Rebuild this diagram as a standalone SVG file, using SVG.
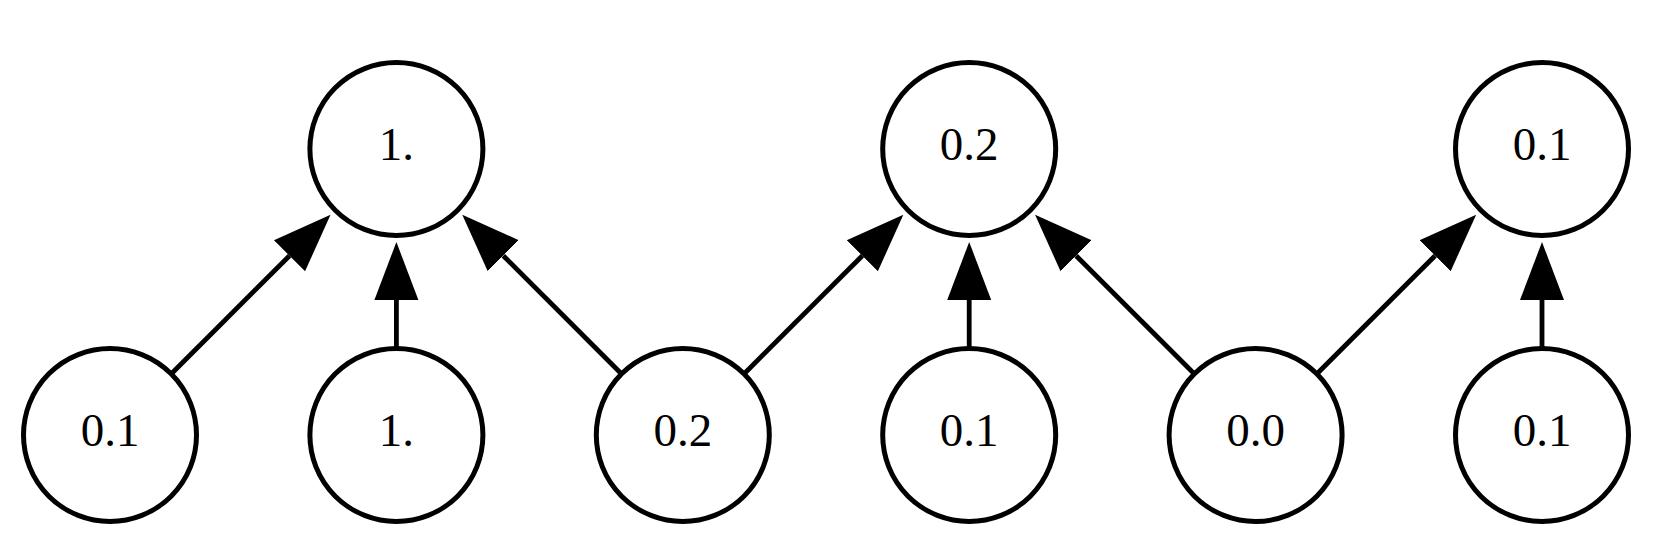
<svg xmlns="http://www.w3.org/2000/svg" width="1656" height="544" viewBox="0 0 1656 544">
<style>
.node circle{fill:#fff;stroke:#000;stroke-width:5}
.node text{font-family:"Liberation Serif","DejaVu Serif",serif;font-size:47px;fill:#000;text-anchor:middle}
.edges line{stroke:#000;stroke-width:4.8;marker-end:url(#ah)}
</style>
<defs>
<marker id="ah" markerUnits="userSpaceOnUse" markerWidth="60" markerHeight="46" refX="0" refY="23" orient="auto" viewBox="0 0 60 46">
<path d="M0,1 L58,23 L0,45 Z" fill="#000"/>
</marker>
</defs>
<rect width="1656" height="544" fill="#fff"/>
<g class="edges">
<line x1="170.9" y1="374.2" x2="289.5" y2="255.7"/>
<line x1="396.4" y1="349" x2="396.4" y2="300"/>
<line x1="621.9" y1="374.2" x2="503.3" y2="255.7"/>
<line x1="743.7" y1="374.2" x2="862.3" y2="255.7"/>
<line x1="969.2" y1="349" x2="969.2" y2="300"/>
<line x1="1194.7" y1="374.2" x2="1076.1" y2="255.7"/>
<line x1="1316.5" y1="374.2" x2="1435.1" y2="255.7"/>
<line x1="1542" y1="349" x2="1542" y2="300"/>
</g>
<g id="t0" class="node"><circle cx="396.4" cy="149" r="86.5"/><text x="396.4" y="160">1.</text></g>
<g id="t1" class="node"><circle cx="969.2" cy="149" r="86.5"/><text x="969.2" y="160">0.2</text></g>
<g id="t2" class="node"><circle cx="1542" cy="149" r="86.5"/><text x="1542" y="160">0.1</text></g>
<g id="b0" class="node"><circle cx="110" cy="435" r="86.5"/><text x="110" y="446">0.1</text></g>
<g id="b1" class="node"><circle cx="396.4" cy="435" r="86.5"/><text x="396.4" y="446">1.</text></g>
<g id="b2" class="node"><circle cx="682.8" cy="435" r="86.5"/><text x="682.8" y="446">0.2</text></g>
<g id="b3" class="node"><circle cx="969.2" cy="435" r="86.5"/><text x="969.2" y="446">0.1</text></g>
<g id="b4" class="node"><circle cx="1255.6" cy="435" r="86.5"/><text x="1255.6" y="446">0.0</text></g>
<g id="b5" class="node"><circle cx="1542" cy="435" r="86.5"/><text x="1542" y="446">0.1</text></g>
</svg>
